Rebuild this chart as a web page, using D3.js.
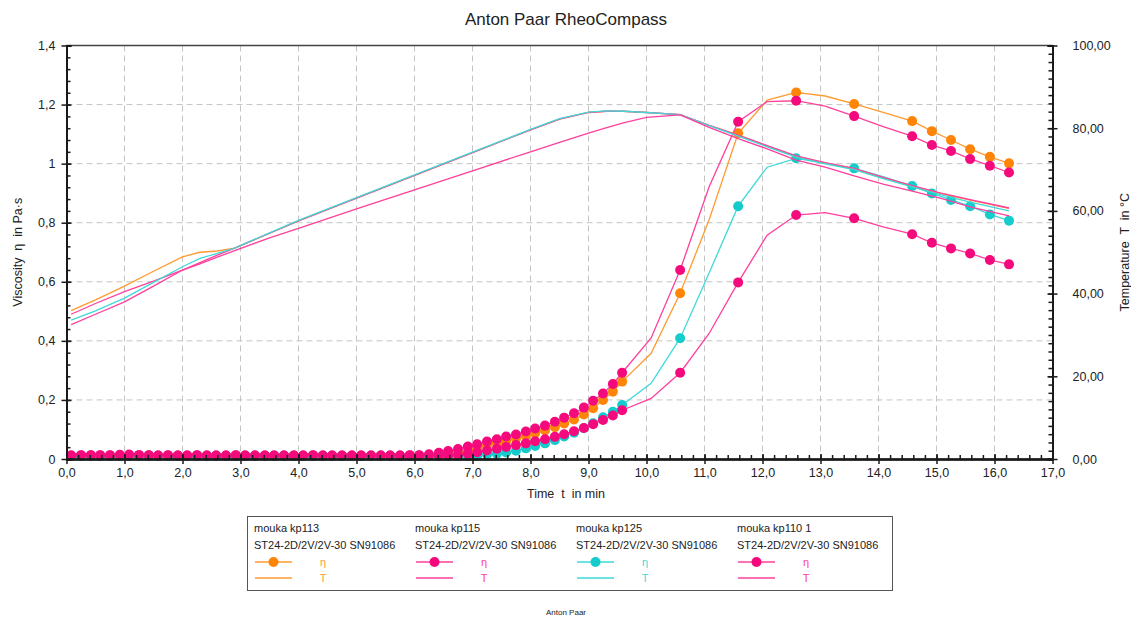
<!DOCTYPE html>
<html>
<head>
<meta charset="utf-8">
<script src="https://cdn.jsdelivr.net/npm/d3@7"></script>
<style>
  body { margin: 0; background: #fff; }
  text { font-family: "Liberation Sans", Arial, sans-serif; fill: #222; }
  .atitle { white-space: pre; }
</style>
</head>
<body>
<div id="viz"></div>
<script>
// times (min) of the viscosity points, 10 s steps then sparser
var tEta = [0.08, 0.25, 0.42, 0.58, 0.75, 0.92, 1.08, 1.25, 1.42, 1.58, 1.75, 1.92,
  2.08, 2.25, 2.42, 2.58, 2.75, 2.92, 3.08, 3.25, 3.42, 3.58, 3.75, 3.92,
  4.08, 4.25, 4.42, 4.58, 4.75, 4.92, 5.08, 5.25, 5.42, 5.58, 5.75, 5.92,
  6.08, 6.25, 6.42, 6.58, 6.75, 6.92, 7.08, 7.25, 7.42, 7.58, 7.75, 7.92,
  8.08, 8.25, 8.42, 8.58, 8.75, 8.92, 9.08, 9.25, 9.42, 9.58,
  10.08, 10.58, 11.08, 11.58, 12.08, 12.58, 13.08, 13.58, 14.08, 14.58, 14.92, 15.25, 15.58, 15.92, 16.25];
// points that are on the line but have no marker
var lineOnly = [10.08, 11.08, 12.08, 13.08, 14.08];

var eta113 = [0.011, 0.011, 0.012, 0.011, 0.011, 0.011, 0.011, 0.012, 0.012, 0.011, 0.011, 0.011,
  0.011, 0.011, 0.011, 0.011, 0.011, 0.011, 0.011, 0.011, 0.011, 0.011, 0.011, 0.011,
  0.011, 0.011, 0.011, 0.011, 0.011, 0.011, 0.011, 0.011, 0.011, 0.011, 0.011, 0.011,
  0.011, 0.012, 0.014, 0.017, 0.022, 0.029, 0.037, 0.045, 0.053, 0.061, 0.069, 0.078,
  0.087, 0.097, 0.108, 0.120, 0.134, 0.151, 0.172, 0.200, 0.228, 0.262,
  0.358, 0.561, 0.810, 1.103, 1.215, 1.241, 1.229, 1.202, 1.174, 1.144, 1.110, 1.080, 1.049, 1.023, 1.001];
var eta115 = [0.012, 0.012, 0.012, 0.013, 0.012, 0.012, 0.012, 0.013, 0.013, 0.012, 0.012, 0.012,
  0.012, 0.012, 0.012, 0.012, 0.012, 0.012, 0.012, 0.012, 0.012, 0.012, 0.012, 0.012,
  0.012, 0.012, 0.012, 0.012, 0.012, 0.012, 0.012, 0.012, 0.012, 0.012, 0.012, 0.012,
  0.013, 0.016, 0.021, 0.027, 0.034, 0.042, 0.050, 0.059, 0.067, 0.076, 0.083, 0.093,
  0.103, 0.113, 0.126, 0.140, 0.155, 0.174, 0.197, 0.222, 0.254, 0.292,
  0.410, 0.640, 0.922, 1.142, 1.210, 1.213, 1.195, 1.161, 1.125, 1.093, 1.063, 1.043, 1.016, 0.993, 0.970];
var eta125 = [0.010, 0.010, 0.010, 0.010, 0.010, 0.010, 0.010, 0.010, 0.010, 0.010, 0.010, 0.010,
  0.010, 0.010, 0.010, 0.010, 0.010, 0.010, 0.010, 0.010, 0.010, 0.010, 0.010, 0.010,
  0.010, 0.010, 0.010, 0.010, 0.010, 0.010, 0.010, 0.010, 0.010, 0.010, 0.010, 0.010,
  0.010, 0.010, 0.010, 0.010, 0.010, 0.010, 0.012, 0.015, 0.018, 0.022, 0.028, 0.036,
  0.044, 0.053, 0.064, 0.076, 0.089, 0.104, 0.121, 0.141, 0.160, 0.183,
  0.256, 0.409, 0.630, 0.856, 0.988, 1.018, 1.001, 0.984, 0.956, 0.924, 0.899, 0.877, 0.856, 0.828, 0.807];
var eta110 = [0.012, 0.013, 0.013, 0.012, 0.013, 0.014, 0.015, 0.013, 0.012, 0.012, 0.013, 0.012,
  0.012, 0.013, 0.012, 0.012, 0.012, 0.013, 0.012, 0.012, 0.012, 0.012, 0.012, 0.012,
  0.012, 0.013, 0.012, 0.012, 0.012, 0.012, 0.012, 0.012, 0.012, 0.012, 0.012, 0.013,
  0.012, 0.012, 0.012, 0.012, 0.014, 0.018, 0.023, 0.029, 0.035, 0.041, 0.047, 0.053,
  0.060, 0.067, 0.075, 0.084, 0.094, 0.105, 0.118, 0.132, 0.147, 0.165,
  0.205, 0.292, 0.425, 0.598, 0.758, 0.826, 0.834, 0.815, 0.786, 0.761, 0.732, 0.713, 0.696, 0.674, 0.659];

// temperature curves (°C)
var tTemp = [0.08, 0.5, 1.0, 1.5, 2.0, 2.3, 2.6, 2.9, 3.5, 4.0, 5.0, 6.0, 7.0, 8.0, 8.5, 9.0, 9.3, 9.6, 10.0,
  10.58, 11.08, 11.58, 12.08, 12.58, 13.08, 13.58, 14.08, 14.58, 15.08, 15.58, 16.25];
var temp113 = [35.9, 38.5, 41.8, 45.4, 48.9, 50.0, 50.3, 51.0, 54.6, 57.6, 63.1, 68.6, 74.1, 79.6, 82.2, 83.8, 84.1, 84.1, 83.8,
  83.3, 80.7, 78.3, 75.7, 73.2, 71.6, 70.2, 68.0, 66.0, 64.2, 62.6, 60.6];
var temp115 = [35.0, 37.6, 40.5, 43.0, 45.7, 47.5, 49.3, 51.0, 54.6, 57.6, 63.1, 68.6, 74.1, 79.6, 82.2, 83.8, 84.1, 84.1, 83.8,
  83.3, 80.7, 78.3, 75.8, 73.3, 71.7, 70.3, 68.1, 66.1, 64.3, 62.7, 60.7];
var temp125 = [33.6, 35.8, 38.9, 42.7, 46.5, 48.5, 49.7, 51.0, 54.7, 57.7, 63.2, 68.7, 74.2, 79.7, 82.3, 83.9, 84.2, 84.1, 83.8,
  83.3, 80.6, 78.1, 75.5, 73.0, 71.4, 70.0, 67.8, 65.8, 63.9, 62.1, 60.0];
var temp110 = [32.5, 35.0, 38.0, 41.8, 45.7, 47.2, 48.8, 50.4, 53.5, 55.8, 60.5, 65.1, 69.7, 74.3, 76.6, 78.8, 80.1, 81.3, 82.6,
  83.2, 80.2, 77.5, 75.0, 72.3, 70.6, 68.5, 66.5, 64.8, 63.0, 61.0, 58.8];

var sampleNames = ["mouka kp113", "mouka kp115", "mouka kp125", "mouka kp110 1"];
var geometry = "ST24-2D/2V/2V-30 SN91086";
var xTicks = [0, 1, 2, 3, 4, 5, 6, 7, 8, 9, 10, 11, 12, 13, 14, 15, 16, 17];
var yTicks = [0, 0.2, 0.4, 0.6, 0.8, 1, 1.2, 1.4];
var tTicks = [0, 20, 40, 60, 80, 100];

var series = [
  {eta: eta113, temp: temp113, mark: "#ff8508", line: "#ff9a30"},
  {eta: eta115, temp: temp115, mark: "#f40a7c", line: "#ff3f9c"},
  {eta: eta125, temp: temp125, mark: "#14cccc", line: "#3fd9d9"},
  {eta: eta110, temp: temp110, mark: "#f40a7c", line: "#ff3f9c"}
];

var width = 1131, height = 619;
var plotLeft = 66.5, plotRight = 1052.5, plotTop = 45.5, plotBottom = 459;

var loc = d3.formatLocale({decimal: ",", thousands: ".", grouping: [3], currency: ["", ""]});

var x = d3.scaleLinear().domain([0, 17]).range([plotLeft, plotRight]);
var yL = d3.scaleLinear().domain([0, 1.4]).range([plotBottom, plotTop]);
var yR = d3.scaleLinear().domain([0, 100]).range([plotBottom, plotTop]);

var svg = d3.select('#viz').append('svg')
  .attr('width', width)
  .attr('height', height)
  .style('background', '#fff');

svg.append('text')
  .attr('x', 566).attr('y', 25)
  .attr('text-anchor', 'middle')
  .style('font-size', '17px')
  .text('Anton Paar RheoCompass');

// grid
var grid = svg.append('g');
grid.selectAll('.vg').data(xTicks.slice(1, -1)).enter().append('line')
  .attr('x1', function (d) { return x(d); }).attr('x2', function (d) { return x(d); })
  .attr('y1', plotTop).attr('y2', plotBottom)
  .attr('stroke', '#c4c4c4').attr('stroke-dasharray', '6,4');
grid.selectAll('.hg').data(yTicks.slice(1, -1)).enter().append('line')
  .attr('x1', plotLeft).attr('x2', plotRight)
  .attr('y1', function (d) { return yL(d); }).attr('y2', function (d) { return yL(d); })
  .attr('stroke', '#c4c4c4').attr('stroke-dasharray', '6,4');

svg.append('line')
  .attr('x1', plotLeft).attr('x2', plotRight).attr('y1', plotTop).attr('y2', plotTop)
  .attr('stroke', '#444').attr('stroke-width', 1.5);

// data
var etaLine = d3.line()
  .x(function (d) { return x(d.t); })
  .y(function (d) { return yL(d.v); });
var tempLine = d3.line()
  .x(function (d) { return x(d.t); })
  .y(function (d) { return yR(d.v); });

series.forEach(function (s) {
  var pts = s.eta.map(function (v, i) { return {t: tEta[i], v: v}; });
  var g = svg.append('g');
  g.append('path').attr('d', etaLine(pts))
    .attr('fill', 'none').attr('stroke', s.line).attr('stroke-width', 1.3);
  g.selectAll('circle')
    .data(pts.filter(function (d) { return lineOnly.indexOf(d.t) < 0; }))
    .enter().append('circle')
    .attr('cx', function (d) { return x(d.t); })
    .attr('cy', function (d) { return yL(d.v); })
    .attr('r', 5)
    .attr('fill', s.mark);
});
series.forEach(function (s) {
  var pts = s.temp.map(function (v, i) { return {t: tTemp[i], v: v}; });
  svg.append('path').attr('d', tempLine(pts))
    .attr('fill', 'none').attr('stroke', s.line).attr('stroke-width', 1.3);
});

// axes
function styleAxis(g) {
  g.selectAll('.domain').attr('stroke', '#1a1a1a').attr('stroke-width', 2);
  g.selectAll('.tick line').attr('stroke', '#1a1a1a').attr('stroke-width', 1.5);
  g.selectAll('text').style('font-size', '12.5px').attr('fill', '#222');
}
function minors(lo, hi, step) {
  var out = [];
  for (var v = lo; v <= hi + 1e-9; v += step) out.push(+v.toFixed(4));
  return out;
}

var xAx = svg.append('g').attr('transform', 'translate(0,' + plotBottom + ')');
xAx.call(d3.axisBottom(x).tickValues(xTicks).tickFormat(loc.format('.1f')).tickSizeInner(5).tickSizeOuter(0).tickPadding(4));
xAx.append('g').call(d3.axisBottom(x).tickValues(xTicks).tickFormat('').tickSize(-5));
xAx.append('g').call(d3.axisBottom(x).tickValues(minors(0, 17, 0.2)).tickFormat('').tickSize(-4));
styleAxis(xAx);

var yAx = svg.append('g').attr('transform', 'translate(' + plotLeft + ',0)');
yAx.call(d3.axisLeft(yL).tickValues(yTicks).tickFormat(loc.format('.1~f')).tickSizeInner(5).tickSizeOuter(0).tickPadding(6));
yAx.append('g').call(d3.axisLeft(yL).tickValues(yTicks).tickFormat('').tickSize(-5));
yAx.append('g').call(d3.axisLeft(yL).tickValues(minors(0, 1.4, 0.04)).tickFormat('').tickSize(-4));
styleAxis(yAx);

var rAx = svg.append('g').attr('transform', 'translate(' + plotRight + ',0)');
rAx.call(d3.axisRight(yR).tickValues(tTicks).tickFormat(loc.format('.2f')).tickSizeInner(5).tickSizeOuter(0).tickPadding(15));
rAx.append('g').call(d3.axisRight(yR).tickValues(tTicks).tickFormat('').tickSize(-5));
rAx.append('g').call(d3.axisRight(yR).tickValues(minors(0, 100, 2)).tickFormat('').tickSize(-4));
styleAxis(rAx);

// axis titles
svg.append('text').attr('class', 'atitle')
  .attr('transform', 'translate(22,' + ((plotTop + plotBottom) / 2) + ') rotate(-90)')
  .attr('text-anchor', 'middle').style('font-size', '12.5px')
  .text('Viscosity  \u03b7  in Pa\u00b7s');
svg.append('text').attr('class', 'atitle')
  .attr('transform', 'translate(1129,' + ((plotTop + plotBottom) / 2) + ') rotate(-90)')
  .attr('text-anchor', 'middle').style('font-size', '12.5px')
  .text('Temperature  T  in \u00b0C');
svg.append('text').attr('class', 'atitle')
  .attr('x', 566).attr('y', 498)
  .attr('text-anchor', 'middle').style('font-size', '12.5px')
  .text('Time  t  in min');

// legend
var legend = svg.append('g');
legend.append('rect')
  .attr('x', 247.5).attr('y', 516.5).attr('width', 645).attr('height', 74)
  .attr('fill', '#fff').attr('stroke', '#555').attr('stroke-width', 1);
series.forEach(function (s, i) {
  var lx = 254 + 161 * i;
  var item = legend.append('g').attr('transform', 'translate(' + lx + ',0)');
  item.append('text').attr('x', 0).attr('y', 532).style('font-size', '11px').text(sampleNames[i]);
  item.append('text').attr('x', 0).attr('y', 549).style('font-size', '11px').text(geometry);
  item.append('line').attr('x1', 1).attr('x2', 38).attr('y1', 562).attr('y2', 562)
    .attr('stroke', s.line).attr('stroke-width', 1.5);
  item.append('circle').attr('cx', 19.5).attr('cy', 562).attr('r', 5).attr('fill', s.mark);
  item.append('text').attr('x', 69).attr('y', 566).attr('text-anchor', 'middle')
    .style('font-size', '11px').style('fill', s.line).text('\u03b7');
  item.append('line').attr('x1', 1).attr('x2', 38).attr('y1', 578).attr('y2', 578)
    .attr('stroke', s.line).attr('stroke-width', 1.5);
  item.append('text').attr('x', 69).attr('y', 582).attr('text-anchor', 'middle')
    .style('font-size', '11px').style('fill', s.line).text('T');
});

svg.append('text')
  .attr('x', 566).attr('y', 615)
  .attr('text-anchor', 'middle').style('font-size', '8px')
  .text('Anton Paar');
</script>
</body>
</html>
